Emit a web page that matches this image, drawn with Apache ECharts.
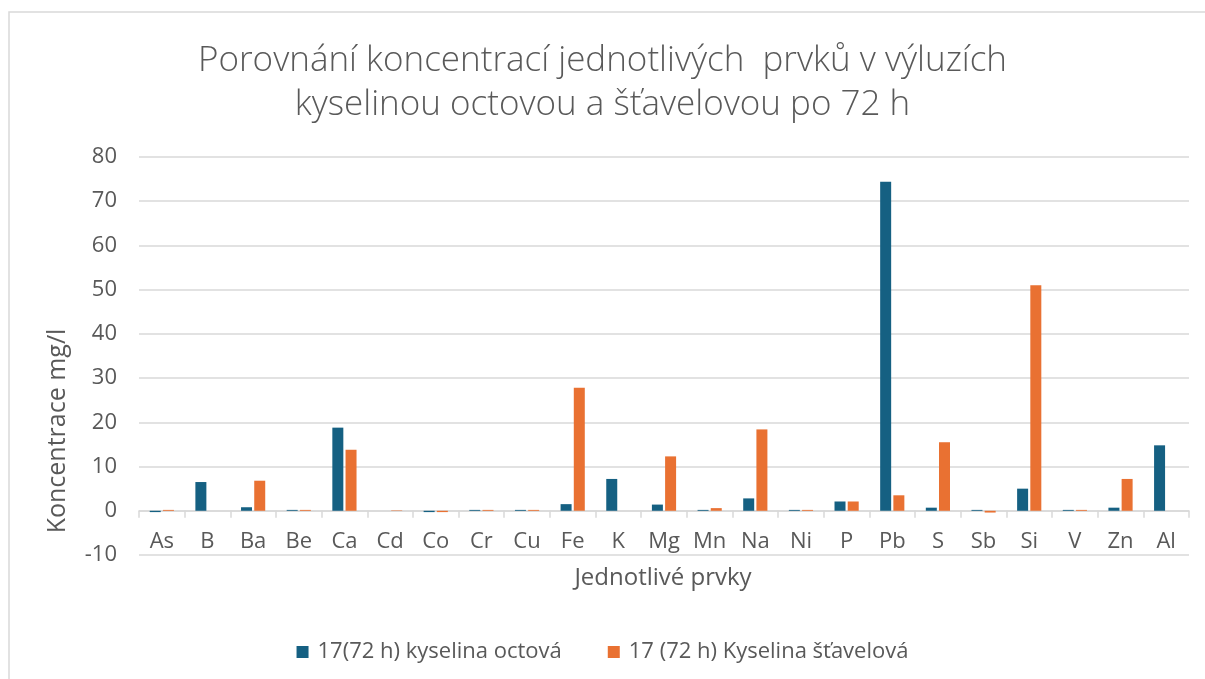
<!DOCTYPE html>
<html>
<head>
<meta charset="utf-8">
<script src="https://cdn.jsdelivr.net/npm/echarts@6/dist/echarts.min.js"></script>
<style>
html,body{margin:0;padding:0;background:#fff;}
#c{width:1205px;height:679px;}
</style>
</head>
<body>
<div id="c"></div>
<script>
var categories = ['As','B','Ba','Be','Ca','Cd','Co','Cr','Cu','Fe','K','Mg','Mn','Na','Ni','P','Pb','S','Sb','Si','V','Zn','Al'];
var octova =    [-0.3, 6.5, 0.8, 0.2, 18.8, 0.0, -0.3, 0.2, 0.2, 1.5, 7.2, 1.4, 0.2, 2.8, 0.2, 2.1, 74.4, 0.7, 0.2, 5.0, 0.2, 0.7, 14.8];
var stavelova = [0.2, 0.0, 6.8, 0.2, 13.8, 0.1, -0.3, 0.2, 0.2, 27.8, 0.0, 12.3, 0.6, 18.4, 0.2, 2.1, 3.5, 15.5, -0.4, 51.0, 0.2, 7.2, 0.0];
var yTicks = [-10, 0, 10, 20, 30, 40, 50, 60, 70, 80];
var seriesNames = ['17(72 h) kyselina octová', '17 (72 h) Kyselina šťavelová'];
var titleLines = ['Porovnání koncentrací jednotlivých  prvků v výluzích', 'kyselinou octovou a šťavelovou po 72 h'];

var FONT = 'Open Sans, Noto Sans, sans-serif';
var GRID = {left: 139, right: 16, top: 157, bottom: 124};
var plotH = 679 - GRID.top - GRID.bottom;
var zeroOffset = -plotH * (0 - yTicks[0]) / (yTicks[yTicks.length - 1] - yTicks[0]);

var chart = echarts.init(document.getElementById('c'));
chart.setOption({
  animation: false,
  backgroundColor: '#fff',
  title: {
    text: titleLines.join('\n'),
    left: 'center',
    top: 34,
    textStyle: {fontFamily: FONT, fontSize: 35, fontWeight: 300, color: '#595959', lineHeight: 44}
  },
  legend: {
    top: 636,
    left: 'center',
    icon: 'rect',
    itemWidth: 12,
    itemHeight: 12,
    itemGap: 46,
    textStyle: {fontFamily: FONT, fontSize: 22, color: '#595959', padding: [0, 0, 0, 4]},
    data: seriesNames
  },
  grid: {left: GRID.left, right: GRID.right, top: GRID.top, bottom: GRID.bottom, containLabel: false},
  xAxis: {
    type: 'category',
    data: categories,
    position: 'bottom',
    offset: zeroOffset,
    axisLine: {show: true, onZero: false, lineStyle: {color: '#d9d9d9', width: 1.5}},
    axisTick: {show: true, length: 7, lineStyle: {color: '#d9d9d9', width: 1.5}},
    axisLabel: {fontFamily: FONT, fontSize: 22, color: '#595959', margin: 20},
    splitLine: {show: false}
  },
  yAxis: {
    type: 'value',
    min: yTicks[0],
    max: yTicks[yTicks.length - 1],
    interval: 10,
    axisLine: {show: false},
    axisTick: {show: false},
    axisLabel: {fontFamily: FONT, fontSize: 22, color: '#595959', margin: 22},
    splitLine: {show: true, lineStyle: {color: '#d9d9d9', width: 1.5}}
  },
  series: [
    {name: seriesNames[0], type: 'bar', data: octova, barWidth: 11, barGap: '20%',
     itemStyle: {color: '#156082'}},
    {name: seriesNames[1], type: 'bar', data: stavelova, barWidth: 11,
     itemStyle: {color: '#E97132'}}
  ],
  graphic: [
    {type: 'rect', shape: {x: 9, y: 12, width: 1300, height: 700}, style: {fill: 'none', stroke: '#d9d9d9', lineWidth: 1.5}, silent: true, z: -1},
    {type: 'text', x: 58, y: 431, rotation: Math.PI / 2,
     style: {text: 'Koncentrace mg/l', fontFamily: FONT, fontSize: 25, fill: '#595959', align: 'center', verticalAlign: 'middle'}},
    {type: 'text', x: 663, y: 578,
     style: {text: 'Jednotlivé prvky', fontFamily: FONT, fontSize: 24, fill: '#595959', align: 'center', verticalAlign: 'middle'}}
  ]
});
</script>
</body>
</html>
